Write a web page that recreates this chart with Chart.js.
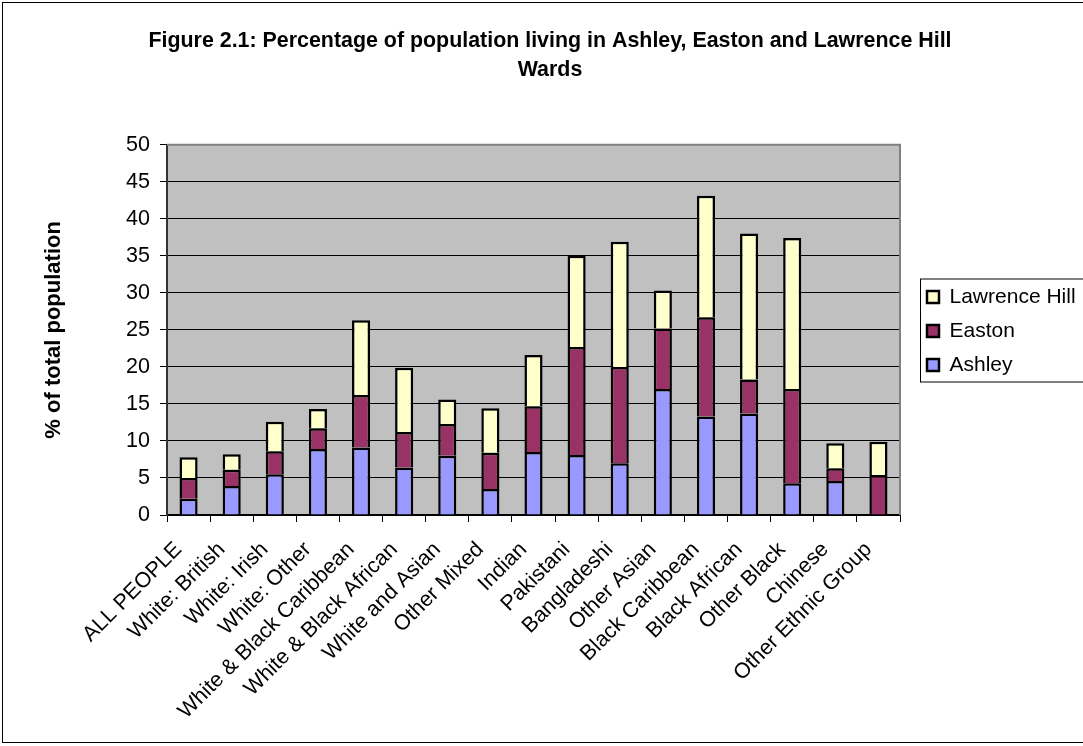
<!DOCTYPE html>
<html>
<head>
<meta charset="utf-8">
<script src="https://cdn.jsdelivr.net/npm/chart.js@4/dist/chart.umd.min.js"></script>
<style>
    body { margin: 0; background: #fff; }
    #wrap { width: 1083px; height: 746px; }
</style>
</head>
<body>
<div id="wrap"><canvas id="myChart" width="1083" height="746"></canvas></div>
<script>
var categories = [
    "ALL PEOPLE", "White: British", "White: Irish", "White: Other",
    "White & Black Caribbean", "White & Black African", "White and Asian",
    "Other Mixed", "Indian", "Pakistani", "Bangladeshi", "Other Asian",
    "Black Caribbean", "Black African", "Other Black", "Chinese",
    "Other Ethnic Group"
];
var ashley = [2.2, 3.9, 5.5, 8.9, 9.1, 6.4, 8.0, 3.5, 8.5, 8.1, 7.0, 17.0, 13.3, 13.7, 4.3, 4.6, 0];
var easton = [2.8, 2.2, 3.1, 2.8, 7.1, 4.8, 4.3, 4.9, 6.2, 14.6, 13.0, 8.2, 13.4, 4.6, 12.7, 1.7, 5.4];
var lawrenceHill = [2.8, 2.1, 4.0, 2.6, 10.1, 8.7, 3.3, 6.0, 6.9, 12.3, 16.9, 5.1, 16.4, 19.7, 20.4, 3.4, 4.5];
var yTicks = { min: 0, max: 50, step: 5 };

var font = "'Liberation Sans', Arial, sans-serif";
Chart.defaults.color = "#000";
Chart.defaults.font.family = font;

// grey plot area, outer frame and the boxed legend
var framePlugin = {
    id: "frame",
    beforeInit: function (chart) {
        var fit = chart.legend.fit;
        chart.legend.fit = function () {
            fit.bind(chart.legend)();
            this.width = 183;
        };
    },
    afterLayout: function (chart) {
        var lg = chart.legend;
        lg.left += 14;
        lg.right += 14;
        lg.top -= 42;
        lg.bottom -= 42;
    },
    beforeDraw: function (chart) {
        var ctx = chart.ctx;
        var a = chart.chartArea;
        ctx.save();
        ctx.fillStyle = "#fff";
        ctx.fillRect(0, 0, chart.width, chart.height);
        ctx.fillStyle = "#C0C0C0";
        ctx.fillRect(a.left, a.top, a.right - a.left, a.bottom - a.top);
        ctx.restore();
    },
    afterDraw: function (chart) {
        var ctx = chart.ctx;
        var a = chart.chartArea;
        ctx.save();
        ctx.strokeStyle = "#808080";
        ctx.lineWidth = 2;
        ctx.beginPath();
        ctx.moveTo(a.left, a.top);
        ctx.lineTo(a.right, a.top);
        ctx.lineTo(a.right, a.bottom);
        ctx.stroke();

        var boxes = chart.legend.legendHitBoxes;
        if (boxes && boxes.length) {
            var first = boxes[0];
            var last = boxes[boxes.length - 1];
            ctx.strokeStyle = "#000";
            ctx.lineWidth = 1;
            ctx.strokeRect(first.left - 6.5, first.top - 7.5, 200, last.top + last.height - first.top + 14);
        }

        ctx.strokeStyle = "#000";
        ctx.lineWidth = 1;
        ctx.strokeRect(2.5, 2.5, 1090, 740);
        ctx.restore();
    }
};

var chart = new Chart(document.getElementById("myChart"), {
    type: "bar",
    data: {
        labels: categories,
        datasets: [
            {
                label: "Ashley",
                data: ashley,
                backgroundColor: "#9999FF",
                borderColor: "#000",
                borderWidth: 2.5,
            },
            {
                label: "Easton",
                data: easton,
                backgroundColor: "#993366",
                borderColor: "#000",
                borderWidth: 2.5,
            },
            {
                label: "Lawrence Hill",
                data: lawrenceHill,
                backgroundColor: "#FFFFCC",
                borderColor: "#000",
                borderWidth: 2.5,
            },
        ],
    },
    options: {
        responsive: false,
        animation: false,
        layout: { padding: { left: 17, right: 0, top: 0, bottom: 0 } },
        categoryPercentage: 1,
        barPercentage: 0.42,
        plugins: {
            title: {
                display: true,
                text: [
                    "Figure 2.1: Percentage of population living in Ashley, Easton and Lawrence Hill",
                    "Wards",
                ],
                font: { size: 21.4, weight: "bold", lineHeight: 1.335 },
                color: "#000",
                padding: { top: 27.2, bottom: 60.4 },
            },
            legend: {
                position: "right",
                reverse: true,
                labels: {
                    boxWidth: 12,
                    boxHeight: 12,
                    padding: 13,
                    font: { size: 21 },
                    color: "#000",
                },
            },
            tooltip: { enabled: false },
        },
        scales: {
            x: {
                stacked: true,
                grid: {
                    offset: true,
                    drawOnChartArea: false,
                    tickLength: 7,
                    tickColor: "#000",
                },
                border: { color: "#000", width: 2 },
                ticks: {
                    font: { size: 21.5 },
                    color: "#000",
                    maxRotation: 45,
                    minRotation: 45,
                    autoSkip: false,
                    padding: 15,
                    labelOffset: -10,
                },
                afterFit: function (scale) {
                    scale.height = 231;
                },
            },
            y: {
                stacked: true,
                min: yTicks.min,
                max: yTicks.max,
                ticks: {
                    stepSize: yTicks.step,
                    font: { size: 21.5 },
                    color: "#000",
                    padding: 10,
                },
                grid: {
                    color: "#000",
                    lineWidth: 1,
                    tickLength: 7,
                    tickColor: "#000",
                },
                border: { color: "#333", width: 2 },
                title: {
                    display: true,
                    text: "% of total population",
                    font: { size: 22, weight: "bold", lineHeight: 1.2 },
                    color: "#000",
                    padding: { top: 24, bottom: 0 },
                },
                afterFit: function (scale) {
                    scale.width = 150;
                },
            },
        },
    },
    plugins: [framePlugin],
});
</script>
</body>
</html>
